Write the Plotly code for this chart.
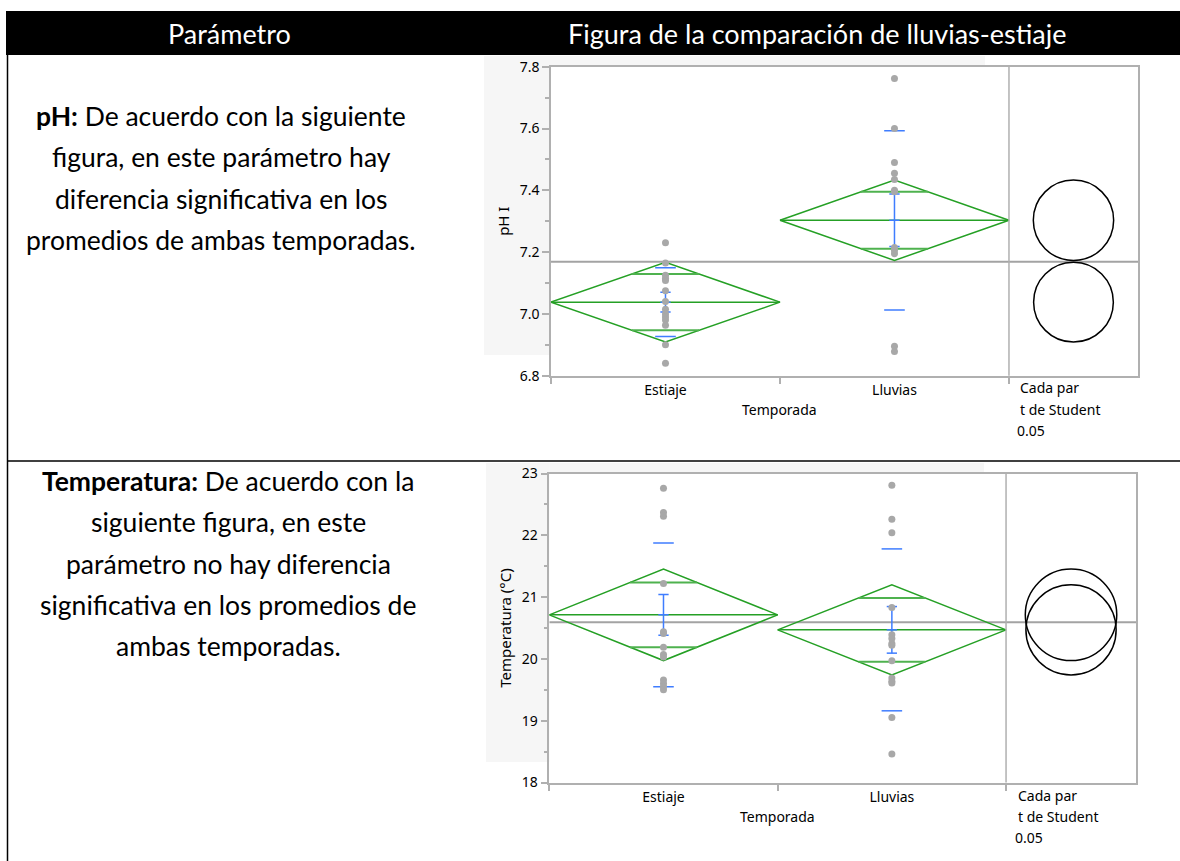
import math
import plotly.graph_objects as go

W, H = 1180, 861

# ---------------- data ----------------
groups = ["Estiaje", "Lluvias"]

ph_estiaje = [7.23, 7.165, 7.125, 7.115, 7.108, 7.075, 7.04, 7.015, 7.0, 6.99, 6.98, 6.963, 6.90, 6.84]
ph_lluvias = [7.762, 7.60, 7.49, 7.455, 7.435, 7.40, 7.395, 7.215, 7.205, 7.195, 6.895, 6.878]
ph_mean = [7.038, 7.303]
ph_ci = [0.129, 0.130]
ph_sd = [0.111, 0.290]
ph_se = [0.032, 0.085]
ph_grand_mean = 7.169
ph_range = [6.8, 7.8]

temp_estiaje = [22.76, 22.37, 22.31, 21.22, 20.44, 20.41, 20.19, 20.07, 20.03, 19.66, 19.60, 19.55, 19.50]
temp_lluvias = [22.81, 22.26, 22.04, 20.83, 20.39, 20.33, 20.25, 20.22, 19.97, 19.69, 19.64, 19.61, 19.05, 18.46]
temp_mean = [20.713, 20.470]
temp_ci = [0.740, 0.730]
temp_sd = [1.162, 1.310]
temp_se = [0.330, 0.377]
temp_grand_mean = 20.593
temp_range = [18, 23]

header_left = "Parámetro"
header_right = "Figura de la comparación de lluvias-estiaje"
ph_text = ["<b>pH:</b> De acuerdo con la siguiente",
           "figura, en este parámetro hay",
           "diferencia significativa en los",
           "promedios de ambas temporadas."]
temp_text = ["<b>Temperatura:</b> De acuerdo con la",
             "siguiente figura, en este",
             "parámetro no hay diferencia",
             "significativa en los promedios de",
             "ambas temporadas."]
side_text = ["Cada par", "t de Student", "0.05"]
x_title = "Temporada"

# ---------------- style ----------------
GREEN = "#25a025"
BLUE = "#3f7dff"
PTS = "#a8a8a8"
FRAME = "#b0b0b0"
GM = "#a3a3a3"
BACK = "#f6f6f6"
TFONT = "Noto Sans"
TSIZE = 14
BFONT = "Lato"
BSIZE = 26.5


def px(x):
    return x / W


def py(y):
    return 1 - y / H


panels = [
    dict(name="pH I", data=[ph_estiaje, ph_lluvias], mean=ph_mean, ci=ph_ci, sd=ph_sd, se=ph_se,
         gm=ph_grand_mean, yr=ph_range, dtick=0.2, mdtick=0.1, fmt=".1f",
         left=551, right=1138, top=66.7, bottom=375.7, xmax=5.127,
         bg=(484, 56, 985, 355), side_y=(387, 409, 430), title_y=409),
    dict(name="Temperatura (°C)", data=[temp_estiaje, temp_lluvias], mean=temp_mean, ci=temp_ci,
         sd=temp_sd, se=temp_se, gm=temp_grand_mean, yr=temp_range, dtick=1, mdtick=0.5, fmt="d",
         left=549.3, right=1136, top=473.5, bottom=782.5, xmax=5.138,
         bg=(486, 463, 984, 762), side_y=(795, 816, 837), title_y=816),
]

fig = go.Figure()
shapes = []
annotations = []

# table header / borders
shapes.append(dict(type="rect", xref="paper", yref="paper", x0=px(6), x1=px(1180), y0=py(55), y1=py(11),
                   fillcolor="black", line=dict(width=0), layer="below"))
shapes.append(dict(type="line", xref="paper", yref="paper", x0=px(7.5), x1=px(7.5), y0=py(55), y1=py(861),
                   line=dict(color="black", width=1.5)))
shapes.append(dict(type="line", xref="paper", yref="paper", x0=px(7), x1=px(1180), y0=py(461), y1=py(461),
                   line=dict(color="black", width=1.5)))


def label(text, x, y, size, color="black", family=BFONT, xanchor="center", xref="paper"):
    annotations.append(dict(text=text, x=px(x) if xref == "paper" else x, y=py(y), xref=xref, yref="paper",
                            showarrow=False, xanchor=xanchor, yanchor="middle",
                            font=dict(family=family, size=size, color=color)))


label(header_left, 229, 33, 27, "white")
label(header_right, 818, 33, 27, "white")
for i, t in enumerate(ph_text):
    label(t, 221, 116 + 41.3 * i, BSIZE)
for i, t in enumerate(temp_text):
    label(t, 228, 481 + 41.3 * i, BSIZE)

k = 1 / math.sqrt(2)
for pi_, p in enumerate(panels):
    ax = "" if pi_ == 0 else str(pi_ + 1)
    xa, ya = "x" + ax, "y" + ax
    pos = [2 * i + 1 for i in range(len(groups))]
    xmax = p["xmax"]

    # light gray backdrop peeking out around the chart (left and top strips)
    bx0, by0, bx1, by1 = p["bg"]
    shapes.append(dict(type="rect", xref="paper", yref="paper", x0=px(bx0), x1=px(p["left"]),
                       y0=py(by1), y1=py(by0), fillcolor=BACK, line=dict(width=0), layer="below"))
    shapes.append(dict(type="rect", xref="paper", yref="paper", x0=px(p["left"]), x1=px(bx1),
                       y0=py(p["top"]), y1=py(by0), fillcolor=BACK, line=dict(width=0), layer="below"))

    # grand mean
    fig.add_trace(go.Scatter(x=[0, xmax], y=[p["gm"], p["gm"]], mode="lines", xaxis=xa, yaxis=ya,
                             line=dict(color=GM, width=2), hoverinfo="skip", showlegend=False))
    # diamonds
    for g, c in enumerate(pos):
        m, h = p["mean"][g], p["ci"][g]
        fig.add_trace(go.Scatter(
            x=[c - 1, c, c + 1, c, c - 1, None, c - 1, c + 1],
            y=[m, m + h, m, m - h, m, None, m, m],
            mode="lines", xaxis=xa, yaxis=ya, line=dict(color=GREEN, width=1.5),
            hoverinfo="skip", showlegend=False))
        w = 1 - k
        fig.add_trace(go.Scatter(
            x=[c - w, c + w, None, c - w, c + w],
            y=[m + h * k, m + h * k, None, m - h * k, m - h * k],
            mode="lines", xaxis=xa, yaxis=ya, line=dict(color="#4fb24f", width=2),
            hoverinfo="skip", showlegend=False))
    # blue std dev lines & std error bars
    for g, c in enumerate(pos):
        m, s, e = p["mean"][g], p["sd"][g], p["se"][g]
        sw, cw = 0.09, 0.045
        fig.add_trace(go.Scatter(
            x=[c - sw, c + sw, None, c - sw, c + sw, None, c, c, None,
               c - cw, c + cw, None, c - cw, c + cw, None, c - cw, c + cw],
            y=[m + s, m + s, None, m - s, m - s, None, m - e, m + e, None,
               m + e, m + e, None, m - e, m - e, None, m, m],
            mode="lines", xaxis=xa, yaxis=ya, line=dict(color=BLUE, width=1.5),
            hoverinfo="skip", showlegend=False))
    # points
    for g, c in enumerate(pos):
        vals = p["data"][g]
        fig.add_trace(go.Scatter(x=[c] * len(vals), y=vals, mode="markers", xaxis=xa, yaxis=ya,
                                 marker=dict(color=PTS, size=7), name=groups[g], showlegend=False))
    # comparison circles
    xlen = p["right"] - p["left"]
    ylen = p["bottom"] - p["top"]
    xppu = xlen / xmax
    yppu = ylen / (p["yr"][1] - p["yr"][0])
    cx = (4 + xmax) / 2
    for g in range(len(groups)):
        m, r = p["mean"][g], p["ci"][g]
        rx = r * yppu / xppu
        shapes.append(dict(type="circle", xref=xa, yref=ya, x0=cx - rx, x1=cx + rx, y0=m - r, y1=m + r,
                           line=dict(color="black", width=1.5), layer="above"))
    # divider
    shapes.append(dict(type="line", xref=xa, yref=ya + " domain", x0=4, x1=4, y0=0, y1=1,
                       line=dict(color=FRAME, width=1.5)))
    # side text
    for j, t in enumerate(side_text):
        label(t, p["left"] + 467 + (0 if j < 2 else -3), p["side_y"][j], TSIZE, family=TFONT,
              xanchor="left")
    # x-axis title centred under the group area
    label(x_title, 2, p["title_y"], TSIZE, family=TFONT, xref=xa)

    xaxis = dict(domain=[px(p["left"]), px(p["right"])], range=[0, xmax], anchor=ya, automargin=False,
                 tickvals=pos, ticktext=groups, ticks="", showgrid=False, zeroline=False,
                 showline=True, mirror=True, linecolor=FRAME, linewidth=1.5,
                 tickfont=dict(family=TFONT, size=TSIZE, color="black"), ticklabelstandoff=1,
                 minor=dict(tickvals=[0, 2, 4], ticks="outside", ticklen=7, tickcolor=FRAME, tickwidth=1.5))
    yaxis = dict(domain=[py(p["bottom"]), py(p["top"])], range=p["yr"], anchor=xa, automargin=False,
                 dtick=p["dtick"], tickformat=p["fmt"], ticks="outside", ticklen=7, tickcolor=FRAME,
                 tickwidth=1.5, showgrid=False, zeroline=False, showline=True, mirror=True,
                 linecolor=FRAME, linewidth=1.5,
                 tickfont=dict(family=TFONT, size=TSIZE, color="black"),
                 minor=dict(dtick=p["mdtick"], ticks="outside", ticklen=4, tickcolor=FRAME, tickwidth=1.5),
                 title=dict(text=p["name"], font=dict(family=TFONT, size=TSIZE + 1, color="black"), standoff=6))
    fig.layout["xaxis" + ax] = xaxis
    fig.layout["yaxis" + ax] = yaxis

fig.update_layout(width=W, height=H, autosize=False,
                  margin=dict(l=0, r=0, t=0, b=0, pad=0, autoexpand=False),
                  paper_bgcolor="white", plot_bgcolor="white",
                  shapes=shapes, annotations=annotations, showlegend=False)
fig.write_html("out.html", config={"displayModeBar": False},
               post_script="document.body.style.margin='0';document.body.style.overflow='hidden';")
